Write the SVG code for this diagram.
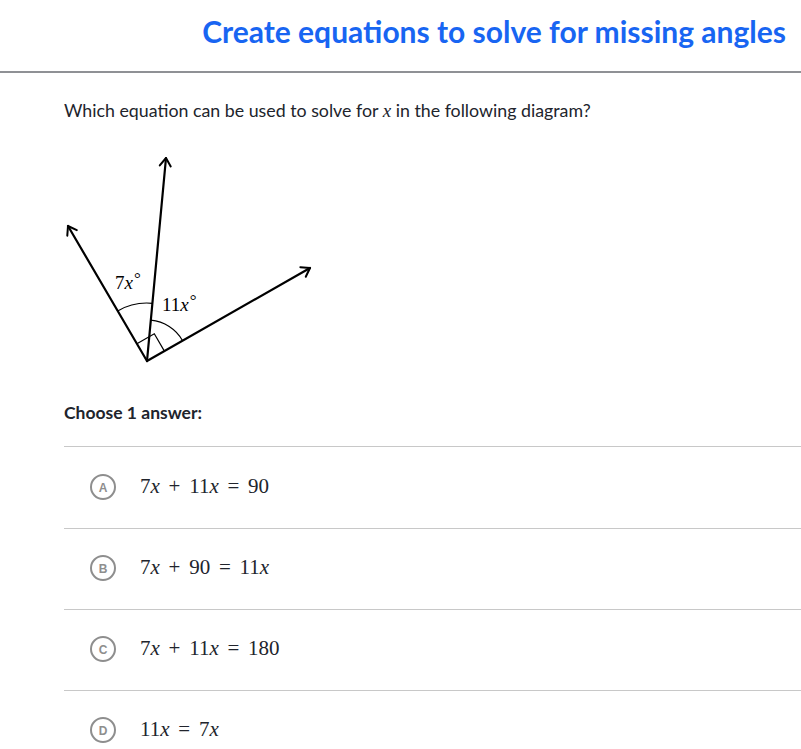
<svg xmlns="http://www.w3.org/2000/svg" width="801" height="749" viewBox="0 0 801 749">
<style>
.title{font-family:Lato,"Open Sans",sans-serif;font-weight:bold;font-size:30px;fill:#1865f2}
.q{font-family:Lato,"Open Sans",sans-serif;font-size:17.8px;fill:#21242c}
.qb{font-family:Lato,"Open Sans",sans-serif;font-size:17.5px;font-weight:bold;fill:#21242c}
.m{font-family:"Liberation Serif","DejaVu Serif",serif;fill:#21242c}
.eq{font-size:21px;word-spacing:3.5px}
.lab{font-size:19px;fill:#000}
.sep{stroke:#c8c8c8;stroke-width:1.2}
.ray{stroke:#000;stroke-width:2.2;fill:none;stroke-linecap:round}
.thin{stroke:#000;stroke-width:1.2;fill:none}
.circ{fill:#fff;stroke:#8e8e8e;stroke-width:2}
.let{font-family:"Liberation Sans",Arial,sans-serif;font-size:12px;font-weight:bold;fill:#8e8e8e;text-anchor:middle}
</style>
<defs>
<marker id="arr" viewBox="-10 -7 12 14" refX="0" refY="0" markerWidth="12" markerHeight="14" markerUnits="userSpaceOnUse" orient="auto">
<path d="M-8,-5.5 L0,0 L-8,5.5" fill="none" stroke="#000" stroke-width="2" stroke-linecap="round" stroke-linejoin="round"/>
</marker>
</defs>
<rect width="801" height="749" fill="#fff"/>
<g id="header">
<text class="title" x="786" y="43" text-anchor="end">Create equations to solve for missing angles</text>
<line x1="0" y1="72" x2="801" y2="72" stroke="#21242c" stroke-width="1.2"/>
</g>
<g id="question">
<text class="q" x="64" y="117">Which equation can be used to solve for <tspan class="m" font-style="italic" font-size="19">x</tspan> in the following diagram?</text>
</g>
<g id="diagram">
<g id="rays">
<line class="ray" x1="147" y1="361" x2="68" y2="226" marker-end="url(#arr)"/>
<line class="ray" x1="147" y1="361" x2="166" y2="158" marker-end="url(#arr)"/>
<line class="ray" x1="147" y1="361" x2="310" y2="268" marker-end="url(#arr)"/>
</g>
<g id="marks">
<path class="thin" d="M117.7,310.9 A58,58 0 0 1 152.4,303.3"/>
<path class="thin" d="M150.8,320.2 A41,41 0 0 1 182.6,340.7"/>
<path class="thin" d="M136.9,343.7 L154.3,333.8 L164.4,351.1"/>
</g>
<text class="m lab" x="115" y="289">7<tspan font-style="italic">x</tspan><tspan dx="1" font-size="17" dy="-5">°</tspan></text>
<text class="m lab" x="162" y="311">11<tspan font-style="italic">x</tspan><tspan dx="1" font-size="17" dy="-5">°</tspan></text>
</g>
<g id="prompt">
<text class="qb" x="64" y="419">Choose 1 answer:</text>
</g>
<g id="separators">
<line class="sep" x1="64" y1="446.5" x2="801" y2="446.5"/>
<line class="sep" x1="64" y1="528.5" x2="801" y2="528.5"/>
<line class="sep" x1="64" y1="609.5" x2="801" y2="609.5"/>
<line class="sep" x1="64" y1="690.5" x2="801" y2="690.5"/>
</g>
<g id="choiceA">
<circle class="circ" cx="103" cy="487" r="12"/>
<text class="let" x="103" y="491.5">A</text>
<text class="m eq" x="140" y="493">7<tspan font-style="italic">x</tspan> + 11<tspan font-style="italic">x</tspan> = 90</text>
</g>
<g id="choiceB">
<circle class="circ" cx="103" cy="568" r="12"/>
<text class="let" x="103" y="572.5">B</text>
<text class="m eq" x="140" y="574">7<tspan font-style="italic">x</tspan> + 90 = 11<tspan font-style="italic">x</tspan></text>
</g>
<g id="choiceC">
<circle class="circ" cx="103" cy="649" r="12"/>
<text class="let" x="103" y="653.5">C</text>
<text class="m eq" x="140" y="655">7<tspan font-style="italic">x</tspan> + 11<tspan font-style="italic">x</tspan> = 180</text>
</g>
<g id="choiceD">
<circle class="circ" cx="103" cy="730" r="12"/>
<text class="let" x="103" y="734.5">D</text>
<text class="m eq" x="140" y="736">11<tspan font-style="italic">x</tspan> = 7<tspan font-style="italic">x</tspan></text>
</g>
</svg>
